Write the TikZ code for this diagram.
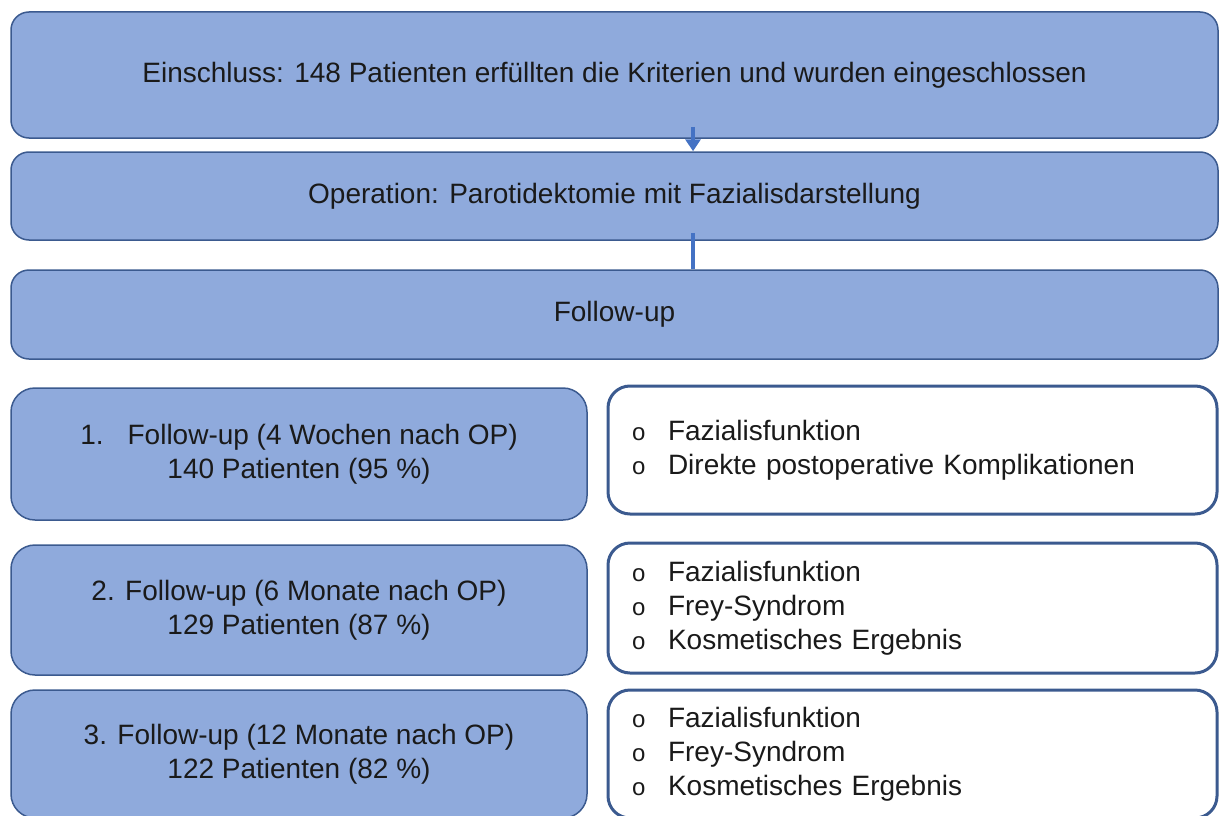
\documentclass[tikz,border=0pt]{standalone}
\usepackage{fontspec}
\setmainfont{Liberation Sans}
\usetikzlibrary{arrows.meta,calc}
\definecolor{boxfill}{HTML}{8FAADC}
\definecolor{boxline}{HTML}{3B5A8F}
\definecolor{arrowblue}{HTML}{4472C4}
\definecolor{txt}{HTML}{1A1A1A}
\newcommand{\bul}{\makebox[36pt][l]{\fontsize{24}{34}\selectfont o}}
\begin{document}
\begin{tikzpicture}[x=1pt,y=-1pt,
  bluebox/.style={draw=boxline, line width=1.5pt, fill=boxfill, rounded corners=18pt, inner sep=0pt,
    font=\fontsize{28}{34}\selectfont, text=txt, align=center},
  whitebox/.style={draw=boxline, line width=3pt, fill=white, rounded corners=22pt, inner xsep=24pt, inner ysep=0pt,
    font=\fontsize{28}{34}\selectfont, text=txt, align=left},
  conn/.style={draw=arrowblue, line width=4pt}]
\useasboundingbox (0,0) rectangle (1220,816);
\clip (0,0) rectangle (1220,816);
\node[bluebox, minimum width=1207pt, minimum height=126pt] (b1) at (614.5,75)
  {Einschluss: 148 Patienten erfüllten die Kriterien und wurden eingeschlossen};
\node[bluebox, minimum width=1207pt, minimum height=88pt] (b2) at (614.5,196)
  {Operation: Parotidektomie mit Fazialisdarstellung};
\node[bluebox, minimum width=1207pt, minimum height=89pt] (b3) at (614.5,314.5)
  {Follow-up};
\node[bluebox, rounded corners=24pt, minimum width=576pt, minimum height=132pt] (l1) at (299,454)
  {1.\hspace{24pt}Follow-up (4 Wochen nach OP)\\140 Patienten (95 \%)};
\node[bluebox, rounded corners=24pt, minimum width=576pt, minimum height=130pt] (l2) at (299,610)
  {2. Follow-up (6 Monate nach OP)\\129 Patienten (87 \%)};
\node[bluebox, rounded corners=24pt, minimum width=576pt, minimum height=128pt] (l3) at (299,754)
  {3. Follow-up (12 Monate nach OP)\\122 Patienten (82 \%)};
\node[whitebox, text width=561pt, minimum height=128pt] (r1) at (912.5,450)
  {\bul Fazialisfunktion\\\bul Direkte postoperative Komplikationen};
\node[whitebox, text width=561pt, minimum height=130pt] (r2) at (912.5,608)
  {\bul Fazialisfunktion\\\bul Frey-Syndrom\\\bul Kosmetisches Ergebnis};
\node[whitebox, text width=561pt, minimum height=128pt] (r3) at (912.5,754)
  {\bul Fazialisfunktion\\\bul Frey-Syndrom\\\bul Kosmetisches Ergebnis};
\coordinate (cx) at (693,0);
\draw[conn, -{Triangle[width=15pt,length=12pt]}] ($(b1.south -| cx)+(0,-12)$) -- (b2.north -| cx);
\draw[conn] ($(b2.south -| cx)+(0,-8)$) -- (b3.north -| cx);
\end{tikzpicture}
\end{document}
